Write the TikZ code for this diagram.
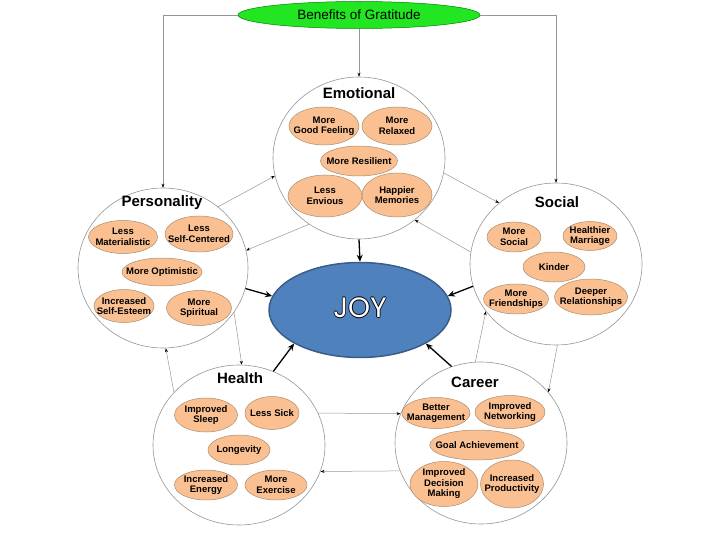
\documentclass[tikz,border=0pt]{standalone}
\usepackage{fontspec}
\setmainfont{Liberation Sans}
\newfontfamily\joyfont{Poppins}
\usetikzlibrary{shapes.geometric,arrows.meta}

\definecolor{peach}{RGB}{250,192,145}
\definecolor{peachline}{RGB}{170,140,110}
\definecolor{brightgreen}{RGB}{34,230,34}
\definecolor{joyblue}{RGB}{79,129,189}
\definecolor{joyline}{RGB}{56,93,138}
\definecolor{ringgray}{RGB}{150,150,150}

\newcommand\joyword[1]{%
  \leavevmode\rlap{\color{black}\kern-0.8pt#1}\rlap{\color{black}\kern0.8pt#1}%
  \rlap{\color{black}\raisebox{0.8pt}{#1}}\rlap{\color{black}\raisebox{-0.8pt}{#1}}%
  {\color{white}#1}}

\begin{document}
\begin{tikzpicture}[x=1pt,y=-1pt,
    area/.style={ellipse,draw=ringgray,line width=0.6pt,fill=white,inner sep=0pt},
    areatitle/.style={font=\bfseries\fontsize{15}{18}\selectfont,inner sep=0pt},
    benefit/.style={ellipse,draw=peachline,line width=0.5pt,fill=peach,align=center,
      font=\bfseries\fontsize{9.5}{10.5}\selectfont,inner xsep=-8pt,inner ysep=0pt},
    ring/.style={draw=ringgray,line width=0.5pt,-{Stealth[length=4pt,width=3pt,color=black]}},
    tojoy/.style={line width=1.3pt,-{Stealth[length=7pt,width=6pt]}}]
  \useasboundingbox (0,0) rectangle (720,540);

  % top
  \node[ellipse,draw=green!50!black,line width=0.5pt,fill=brightgreen,minimum width=242pt,
    minimum height=27pt,inner sep=0pt,font=\fontsize{13.5}{16}\selectfont] (benefits) at (359,15) {Benefits of Gratitude};

  % the five areas
  \node[area,minimum width=172pt,minimum height=162pt] (emo) at (359,158) {};
  \node[area,minimum width=170pt,minimum height=160pt] (pers) at (163,268) {};
  \node[area,minimum width=172pt,minimum height=162pt] (soc) at (556,264) {};
  \node[area,minimum width=172pt,minimum height=160pt] (hlth) at (239,445) {};
  \node[area,minimum width=172pt,minimum height=162pt] (car) at (481,443) {};

  \node[ellipse,draw=joyline,line width=1.5pt,fill=joyblue,minimum width=182pt,minimum height=95pt,
    inner sep=0pt,font=\joyfont\fontsize{28}{30}\selectfont] (joy) at (360,310) {\raisebox{5pt}{\joyword{JOY}}};

  \draw[ring] (benefits.west) -| (pers.north);
  \draw[ring] (benefits.east) -| (soc.north);
  \draw[ring] (benefits.south) -- (emo.north);

  % ring round the areas, both ways
  \draw[ring] (pers.48) -- (emo.192);
  \draw[ring] (emo.233) -- (pers.12);
  \draw[ring] (emo.-10) -- (soc.133);
  \draw[ring] (soc.172) -- (emo.-48);
  \draw[ring] (soc.-89) -- (car.37);
  \draw[ring] (car.94) -- (soc.214);
  \draw[ring] (car.199) -- (hlth.-18);
  \draw[ring] (hlth.22) -- (car.160);
  \draw[ring] (hlth.141) -- (pers.-88);
  \draw[ring] (pers.-32) -- (hlth.88);

  \draw[tojoy] (emo.south) -- (joy.north);
  \draw[tojoy] (pers.-14) -- (joy.171);
  \draw[tojoy] (soc.195) -- (joy.9);
  \draw[tojoy] (hlth.65) -- (joy.207);
  \draw[tojoy] (car.111) -- (joy.-27);

  % Emotional
  \node[areatitle] (emotitle) at (359,93) {Emotional};
  \node[benefit,minimum width=70pt,minimum height=38pt] (egood) at (324,126) {More\\Good Feeling};
  \node[benefit,minimum width=70pt,minimum height=38pt] (erelax) at (397,126) {More\\Relaxed};
  \node[benefit,minimum width=77pt,minimum height=30pt] (eresil) at (359,161) {More Resilient};
  \node[benefit,minimum width=74pt,minimum height=42pt] (eenvy) at (325,196) {Less\\Envious};
  \node[benefit,minimum width=70pt,minimum height=44pt] (ehappy) at (397,195) {Happier\\Memories};

  % Personality
  \node[areatitle] (perstitle) at (162,203) {Personality};
  \node[benefit,minimum width=69pt,minimum height=33pt] (pmat) at (123,237) {Less\\Materialistic};
  \node[benefit,minimum width=68pt,minimum height=36pt] (pself) at (199,234) {Less\\Self-Centered};
  \node[benefit,minimum width=80pt,minimum height=28pt] (popt) at (162,272) {More Optimistic};
  \node[benefit,minimum width=60pt,minimum height=33pt] (pest) at (124,306) {Increased\\Self-Esteem};
  \node[benefit,minimum width=65pt,minimum height=35pt] (pspir) at (199,308) {More\\Spiritual};

  % Social
  \node[areatitle] (soctitle) at (557,202) {Social};
  \node[benefit,minimum width=54pt,minimum height=30pt] (smore) at (514,237) {More\\Social};
  \node[benefit,minimum width=54pt,minimum height=29pt] (smarr) at (590,236) {Healthier\\Marriage};
  \node[benefit,minimum width=62pt,minimum height=30pt] (skind) at (554,267) {Kinder};
  \node[benefit,minimum width=65pt,minimum height=30pt] (sfriend) at (516,299) {More\\Friendships};
  \node[benefit,minimum width=73pt,minimum height=36pt] (sdeep) at (591,297) {Deeper\\Relationships};

  % Health
  \node[areatitle] (hlthtitle) at (240,378) {Health};
  \node[benefit,minimum width=63pt,minimum height=34pt] (hsleep) at (206,415) {Improved\\Sleep};
  \node[benefit,minimum width=54pt,minimum height=33pt] (hsick) at (272,413) {Less Sick};
  \node[benefit,minimum width=62pt,minimum height=30pt] (hlong) at (239,450) {Longevity};
  \node[benefit,minimum width=63pt,minimum height=30pt] (henergy) at (206,485) {Increased\\Energy};
  \node[benefit,minimum width=62pt,minimum height=30pt] (hexer) at (276,485) {More\\Exercise};

  % Career
  \node[areatitle] (cartitle) at (475,382) {Career};
  \node[benefit,minimum width=68pt,minimum height=31pt] (cmgmt) at (436,413) {Better\\Management};
  \node[benefit,minimum width=70pt,minimum height=33pt] (cnet) at (510,412) {Improved\\Networking};
  \node[benefit,minimum width=91pt,minimum height=30pt] (cgoal) at (477,445) {Goal Achievement};
  \node[benefit,minimum width=68pt,minimum height=45pt] (cdec) at (444,484) {Improved\\Decision\\Making};
  \node[benefit,minimum width=63pt,minimum height=48pt] (cprod) at (512,484) {Increased\\Productivity};
\end{tikzpicture}
\end{document}
